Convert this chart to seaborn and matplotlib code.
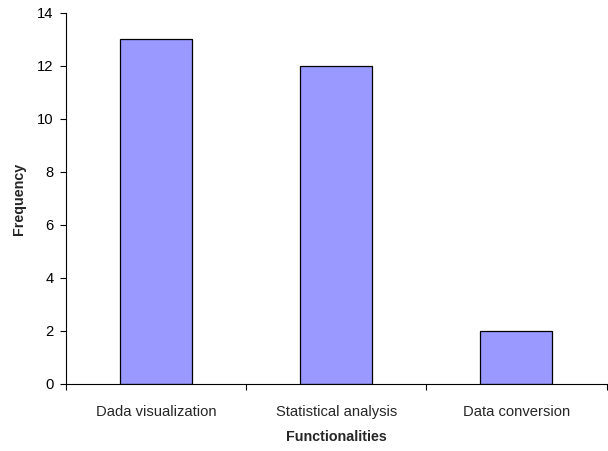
import matplotlib
matplotlib.use("Agg")
import matplotlib.pyplot as plt
import seaborn as sns

# chart data
categories = ["Dada visualization", "Statistical analysis", "Data conversion"]
frequency = [13, 12, 2]

sns.set_style("white")
plt.rcParams["font.family"] = ["Liberation Sans", "DejaVu Sans"]

fig = plt.figure(figsize=(6.08, 4.51), dpi=100)
ax = fig.add_axes([0.1086, 0.1486, 0.889, 0.8226])

sns.barplot(x=categories, y=frequency, color="#9999FF", saturation=1,
            width=0.4, edgecolor="black", linewidth=0.9, ax=ax)

ax.set_xlim(-0.5, len(categories) - 0.5)
ax.set_ylim(0, 14)
ax.set_yticks(range(0, 15, 2))

# boundary ticks without labels, names on minor ticks
ax.set_xticks([i - 0.5 for i in range(len(categories) + 1)])
ax.set_xticklabels([])
ax.set_xticks(range(len(categories)), minor=True)
ax.set_xticklabels(categories, minor=True)
ax.tick_params(axis="x", which="major", bottom=True, direction="out", length=4, width=0.8, colors="black")
ax.tick_params(axis="x", which="minor", bottom=True, length=0, pad=15, labelsize=10.6)
ax.tick_params(axis="y", left=True, direction="out", length=4, width=0.8, colors="black", labelsize=10.6, pad=5)

for side in ["top", "right"]:
    ax.spines[side].set_visible(False)
for side in ["left", "bottom"]:
    ax.spines[side].set_color("black")
    ax.spines[side].set_linewidth(0.8)

ax.set_xlabel("Functionalities", fontsize=10.3, fontweight="bold", labelpad=8)
ax.set_ylabel("Frequency", fontsize=10.3, fontweight="bold", labelpad=8)

fig.savefig("out.png", dpi=100)
